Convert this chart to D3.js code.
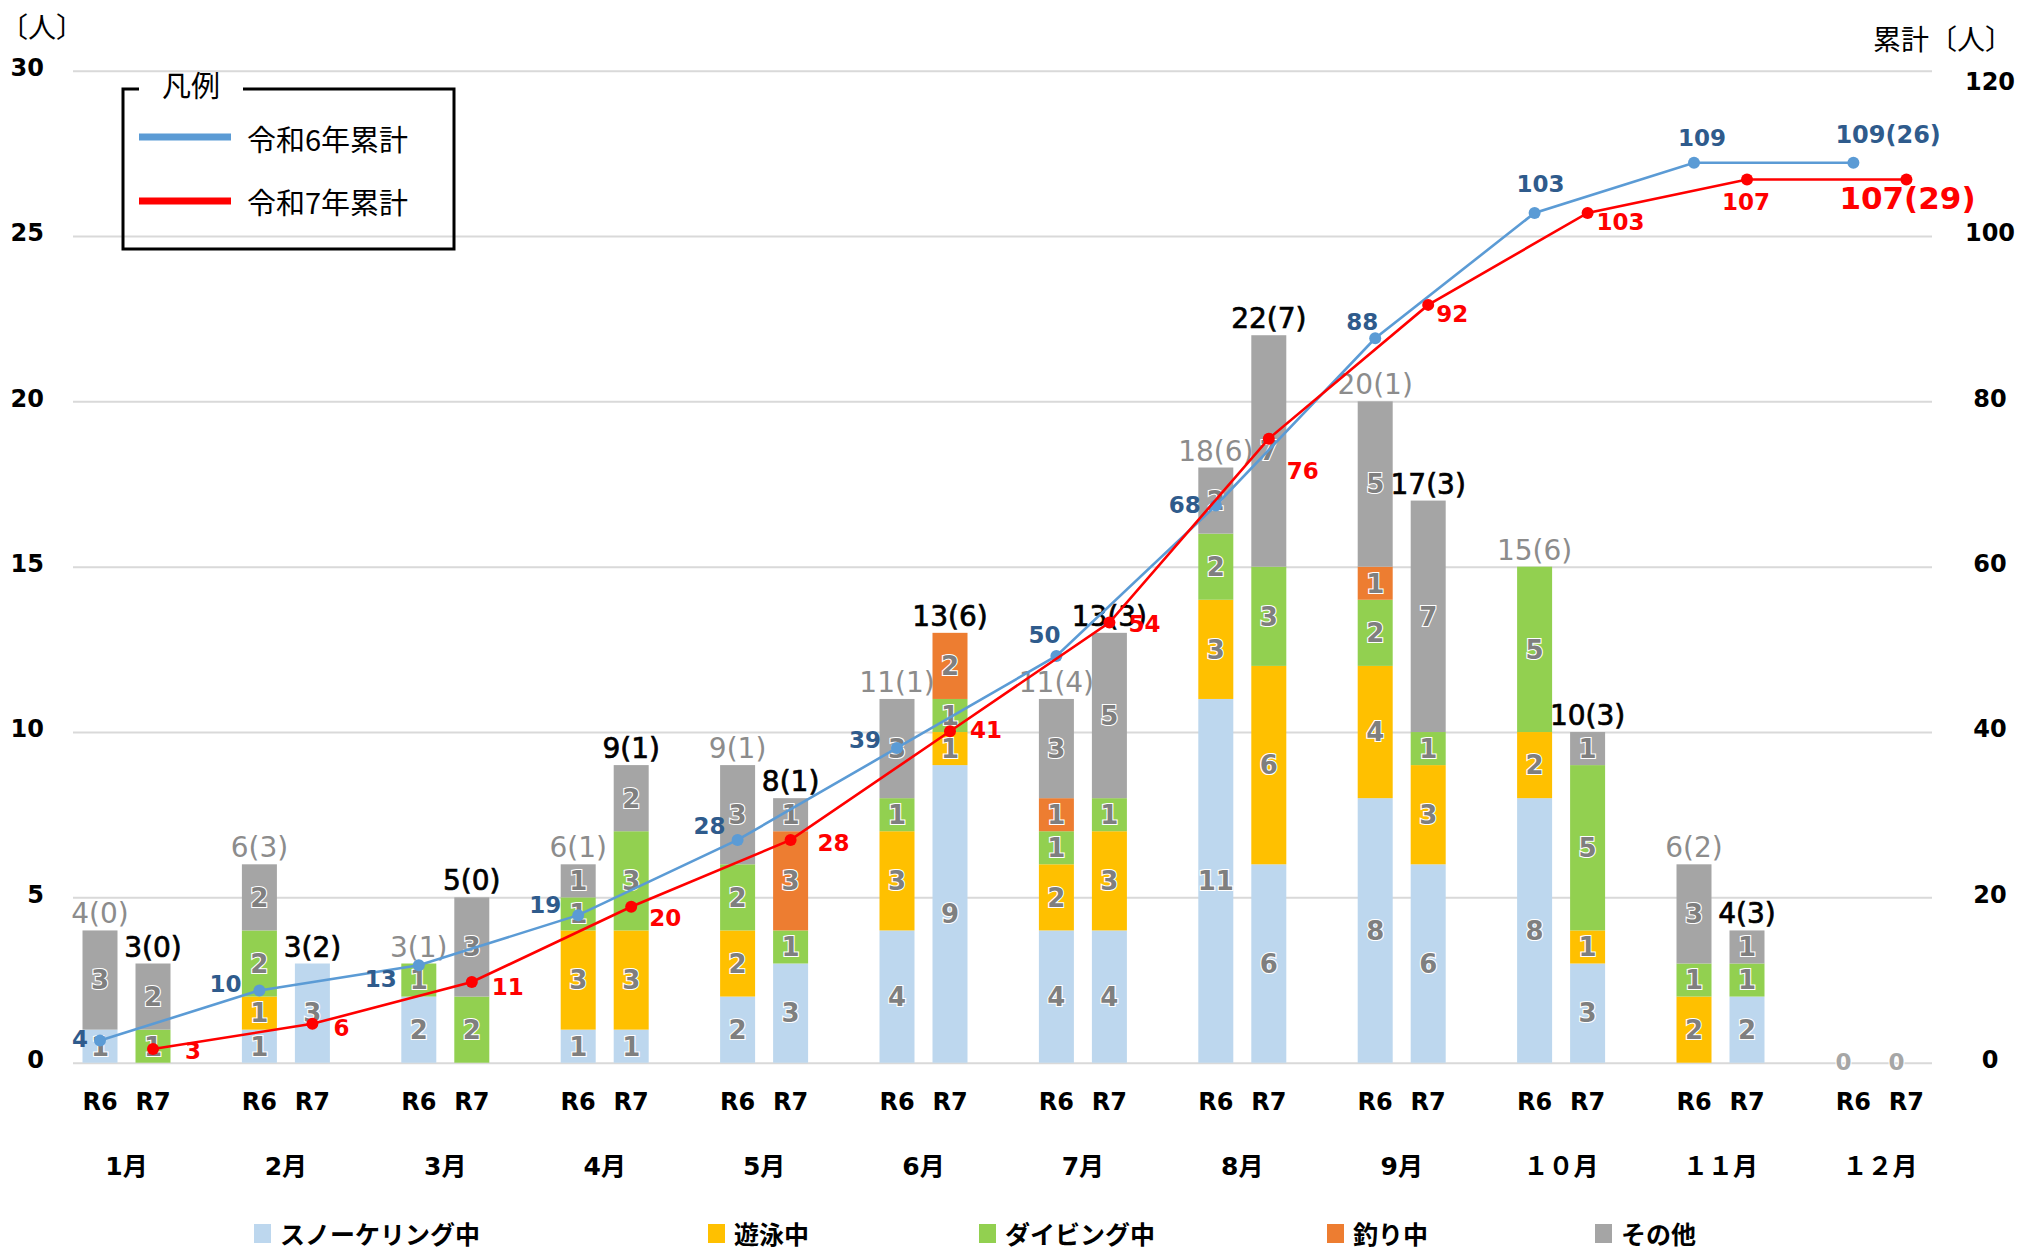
<!DOCTYPE html>
<html lang="ja">
<head>
<meta charset="utf-8">
<script src="https://cdn.jsdelivr.net/npm/d3@7.9.0/dist/d3.min.js"></script>
<style>
  html, body { margin: 0; padding: 0; background: #fff; }
  svg { display: block; }
  .num { font-family: "DejaVu Sans", "Noto Sans CJK JP", sans-serif; }
  .jp { font-family: "Noto Sans CJK JP", "DejaVu Sans", sans-serif; }
</style>
</head>
<body>
<svg id="chart"></svg>
<script>
// ---- data ----
const months = ['1月', '2月', '3月', '4月', '5月', '6月', '7月', '8月', '9月', '１０月', '１１月', '１２月'];
const years = ['R6', 'R7'];
const types = ['スノーケリング中', '遊泳中', 'ダイビング中', '釣り中', 'その他'];

const r6Snorkel = [1, 1, 2, 1, 2, 4, 4, 11, 8, 8, 0, 0];
const r6Swim    = [0, 1, 0, 3, 2, 3, 2, 3, 4, 2, 2, 0];
const r6Dive    = [0, 2, 1, 1, 2, 1, 1, 2, 2, 5, 1, 0];
const r6Fish    = [0, 0, 0, 0, 0, 0, 1, 0, 1, 0, 0, 0];
const r6Other   = [3, 2, 0, 1, 3, 3, 3, 2, 5, 0, 3, 0];

const r7Snorkel = [0, 3, 0, 1, 3, 9, 4, 6, 6, 3, 2, 0];
const r7Swim    = [0, 0, 0, 3, 0, 1, 3, 6, 3, 1, 0, 0];
const r7Dive    = [1, 0, 2, 3, 1, 1, 1, 3, 1, 5, 1, 0];
const r7Fish    = [0, 0, 0, 0, 3, 2, 0, 0, 0, 0, 0, 0];
const r7Other   = [2, 0, 3, 2, 1, 0, 5, 7, 7, 1, 1, 0];

// numbers in brackets above the bars
const r6Paren = [0, 3, 1, 1, 1, 1, 4, 6, 1, 6, 2, null];
const r7Paren = [0, 2, 0, 1, 1, 6, 3, 7, 3, 3, 3, null];

// cumulative totals (right axis)
const r6Cum = [4, 10, 13, 19, 28, 39, 50, 68, 88, 103, 109, 109];
const r7Cum = [3, 6, 11, 20, 28, 41, 54, 76, 92, 103, 107, 107];
const r6CumNote = 26;
const r7CumNote = 29;

const leftTicks = [0, 5, 10, 15, 20, 25, 30];
const rightTicks = [0, 20, 40, 60, 80, 100, 120];

// ---- styling ----
const colors = ['#BDD7EE', '#FFC000', '#92D050', '#ED7D31', '#A5A5A5'];
const blue = '#5B9BD5', blueText = '#2F5B8C', red = '#FF0000';
// label placement next to each cumulative point: [dx, dy, anchor]
const r6LabelPos = [[-12, 6, 'end'], [-18, 2, 'end'], [-22, 22, 'end'], [-17, -2, 'end'], [-12, -6, 'end'], [-16, 0, 'end'],
  [4, -13, 'end'], [-15, 7, 'end'], [3, -8, 'end'], [6, -21, 'middle'], [8, -17, 'middle'], [-18, -20, 'start']];
const r7LabelPos = [[32, 10, 'start'], [21, 12, 'start'], [20, 13, 'start'], [18, 19, 'start'], [27, 11, 'start'], [20, 7, 'start'],
  [19, 9, 'start'], [18, 40, 'start'], [8, 17, 'start'], [9, 17, 'start'], [-1, 31, 'middle'], [-67, 30, 'start']];

const width = 2020, height = 1250;
const barW = 35;

const svg = d3.select('#chart').attr('width', width).attr('height', height)
  .attr('viewBox', `0 0 ${width} ${height}`);

const xMonth = d3.scaleBand().domain(months).range([46.8, 1959.6]);
const xYear = d3.scalePoint().domain(years).range([-26.5, 26.5]);
const cx = (m, yr) => xMonth(m) + xMonth.bandwidth() / 2 + xYear(yr);

const yBar = d3.scaleLinear().domain([0, 30]).range([1062.7, 70.7]);
const yCum = d3.scaleLinear().domain([0, 120]).range([1074, 70.8]);
const yRightLabel = d3.scaleLinear().domain([0, 120]).range(yBar.range());

// gridlines
const grid = svg.append('g').attr('transform', 'translate(73,0)')
  .call(d3.axisLeft(yBar).tickValues(leftTicks).tickSize(-(1932 - 73)).tickFormat(''));
grid.select('.domain').remove();
grid.selectAll('line').attr('stroke', '#D9D9D9').attr('stroke-width', 2);

// left axis labels
const yAxisL = svg.append('g').attr('transform', 'translate(44,0)')
  .call(d3.axisLeft(yBar).tickValues(leftTicks).tickSize(0).tickPadding(0));
yAxisL.select('.domain').remove();
yAxisL.selectAll('text').attr('class', 'num').attr('font-size', 24).attr('font-weight', 'bold')
  .attr('fill', '#000').attr('dy', '0.2em');

// right axis labels
const yAxisR = svg.append('g').attr('transform', 'translate(1990,0)')
  .call(d3.axisRight(yRightLabel).tickValues(rightTicks).tickSize(0).tickPadding(0));
yAxisR.select('.domain').remove();
yAxisR.selectAll('text').attr('class', 'num').attr('font-size', 24).attr('font-weight', 'bold')
  .attr('fill', '#000').attr('text-anchor', 'middle').attr('x', 0)
  .attr('dy', d => d === 120 ? '0.8em' : '0.2em');

// axis titles
svg.append('text').attr('class', 'jp').attr('x', 0).attr('y', 26).attr('dominant-baseline', 'central')
  .attr('font-size', 28).text('〔人〕');
svg.append('text').attr('class', 'jp').attr('x', 1873).attr('y', 38).attr('dominant-baseline', 'central')
  .attr('font-size', 28).text('累計〔人〕');

// stacked bars
const yearData = {
  R6: { parts: [r6Snorkel, r6Swim, r6Dive, r6Fish, r6Other], paren: r6Paren, top: '#8C8C8C' },
  R7: { parts: [r7Snorkel, r7Swim, r7Dive, r7Fish, r7Other], paren: r7Paren, top: '#000' },
};

const stack = d3.stack().keys(types);
const segLayer = svg.append('g');
const segLabelLayer = svg.append('g');
const topLayer = svg.append('g');

years.forEach(yr => {
  const info = yearData[yr];
  const rows = months.map((m, i) => {
    const row = { month: m, idx: i };
    types.forEach((t, k) => row[t] = info.parts[k][i]);
    return row;
  });
  const series = stack(rows);

  series.forEach((s, k) => {
    const segs = s.filter(d => d[1] - d[0] > 0);
    segLayer.selectAll(null).data(segs).join('rect')
      .attr('x', d => cx(d.data.month, yr) - barW / 2)
      .attr('y', d => yBar(d[1]))
      .attr('width', barW)
      .attr('height', d => yBar(d[0]) - yBar(d[1]))
      .attr('fill', colors[k]);

    segLabelLayer.selectAll(null).data(segs).join('text')
      .attr('class', 'num')
      .attr('x', d => cx(d.data.month, yr))
      .attr('y', d => yBar((d[0] + d[1]) / 2))
      .attr('dy', '0.36em')
      .attr('text-anchor', 'middle')
      .attr('font-size', 26).attr('font-weight', 'bold')
      .attr('fill', '#7F7F7F').attr('stroke', '#fff').attr('stroke-width', 2.2)
      .attr('paint-order', 'stroke')
      .text(d => d[1] - d[0]);
  });

  const totals = rows.map(r => d3.sum(types, t => r[t]));
  topLayer.selectAll(null).data(rows.filter((r, i) => totals[i] > 0)).join('text')
    .attr('class', 'num')
    .attr('x', r => cx(r.month, yr))
    .attr('y', r => yBar(totals[r.idx]) - 7)
    .attr('text-anchor', 'middle')
    .attr('font-size', 28)
    .attr('fill', info.top)
    .attr('stroke', info.top).attr('stroke-width', yr === 'R7' ? 0.7 : 0)
    .text(r => `${totals[r.idx]}(${info.paren[r.idx]})`);

  topLayer.selectAll(null).data(rows.filter((r, i) => totals[i] === 0)).join('text')
    .attr('class', 'num')
    .attr('x', r => cx(r.month, yr) - 10)
    .attr('y', yBar(0))
    .attr('dy', '0.3em')
    .attr('text-anchor', 'middle')
    .attr('font-size', 23).attr('font-weight', 'bold')
    .attr('fill', '#A6A6A6').attr('stroke', '#fff').attr('stroke-width', 2)
    .attr('paint-order', 'stroke')
    .text('0');
});

// x labels
svg.append('g').selectAll('text')
  .data(months.flatMap(m => years.map(yr => ({ m, yr }))))
  .join('text')
  .attr('class', 'num')
  .attr('x', d => cx(d.m, d.yr))
  .attr('y', 1101).attr('dy', '0.36em')
  .attr('text-anchor', 'middle')
  .attr('font-size', 24).attr('font-weight', 'bold')
  .text(d => d.yr);

const xAxis = svg.append('g').attr('transform', 'translate(0,1166)')
  .call(d3.axisBottom(xMonth).tickSize(0).tickPadding(0));
xAxis.select('.domain').remove();
xAxis.selectAll('text').attr('class', 'num').attr('font-size', 25).attr('font-weight', 'bold')
  .attr('fill', '#000').attr('dy', '0.36em').attr('y', 0);

// cumulative lines
const lineSets = [
  { yr: 'R6', vals: r6Cum, color: blue, text: blueText, pos: r6LabelPos, note: r6CumNote, last: 24 },
  { yr: 'R7', vals: r7Cum, color: red, text: red, pos: r7LabelPos, note: r7CumNote, last: 31 },
];
const lineLayer = svg.append('g');
const lineLabelLayer = svg.append('g');

lineSets.forEach(ls => {
  const pts = ls.vals.map((v, i) => ({ m: months[i], v, i }));
  const line = d3.line().x(d => cx(d.m, ls.yr)).y(d => yCum(d.v));
  lineLayer.append('path').datum(pts)
    .attr('d', line).attr('fill', 'none')
    .attr('stroke', ls.color).attr('stroke-width', 2.6);
  lineLayer.selectAll(null).data(pts).join('circle')
    .attr('cx', d => cx(d.m, ls.yr)).attr('cy', d => yCum(d.v))
    .attr('r', 6).attr('fill', ls.color);

  lineLabelLayer.selectAll(null).data(pts).join('text')
    .attr('class', 'num')
    .attr('x', d => cx(d.m, ls.yr) + ls.pos[d.i][0])
    .attr('y', d => yCum(d.v) + ls.pos[d.i][1])
    .attr('text-anchor', d => ls.pos[d.i][2])
    .attr('font-size', d => d.i === pts.length - 1 ? ls.last : 23)
    .attr('font-weight', 'bold')
    .attr('fill', ls.text)
    .text(d => d.i === pts.length - 1 ? `${d.v}(${ls.note})` : d.v);
});

// legend box (lines)
const lg = svg.append('g');
lg.append('path')
  .attr('d', 'M139,89 L123,89 L123,249 L454,249 L454,89 L243,89')
  .attr('fill', 'none').attr('stroke', '#000').attr('stroke-width', 3);
lg.append('text').attr('class', 'jp').attr('x', 191).attr('y', 84)
  .attr('text-anchor', 'middle').attr('dominant-baseline', 'central')
  .attr('font-size', 29).text('凡例');
const lineLegend = ['令和6年累計', '令和7年累計'];
lg.selectAll(null).data(lineLegend).join('line')
  .attr('x1', 139).attr('x2', 231)
  .attr('y1', (d, i) => 137 + i * 64).attr('y2', (d, i) => 137 + i * 64)
  .attr('stroke', (d, i) => i === 0 ? blue : red).attr('stroke-width', 7);
lg.selectAll(null).data(lineLegend).join('text')
  .attr('class', 'jp')
  .attr('x', 247).attr('y', (d, i) => 138 + i * 63)
  .attr('dominant-baseline', 'central')
  .attr('font-size', 29).text(d => d);

// legend (bar types)
const legendX = [254, 708, 979, 1327, 1595];
const bl = svg.append('g').selectAll('g').data(types).join('g')
  .attr('transform', (d, i) => `translate(${legendX[i]},1224)`);
bl.append('rect').attr('width', 17).attr('height', 19).attr('fill', (d, i) => colors[i]);
bl.append('text').attr('class', 'jp').attr('x', 26).attr('y', 9)
  .attr('dominant-baseline', 'central')
  .attr('font-size', 25).attr('font-weight', 'bold').text(d => d);
</script>
</body>
</html>
